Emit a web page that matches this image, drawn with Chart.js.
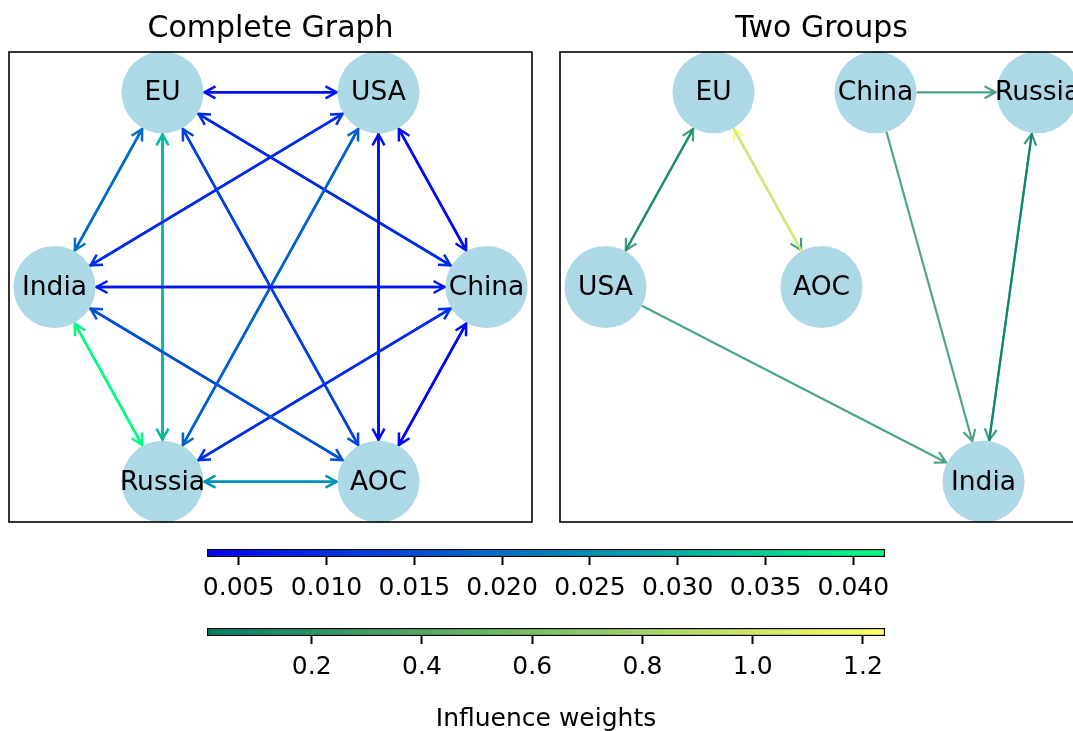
<!DOCTYPE html>
<html>
<head>
<meta charset="utf-8">
<script src="https://cdn.jsdelivr.net/npm/chart.js@4.4.0/dist/chart.umd.min.js"></script>
<style>
  html, body { margin: 0; padding: 0; background: #fff; }
  body { width: 1073px; height: 731px; overflow: hidden; position: relative; }
  canvas { position: absolute; }
</style>
</head>
<body>
<canvas id="leftGraph" width="545" height="530" style="left:0;top:0"></canvas>
<canvas id="rightGraph" width="545" height="530" style="left:548px;top:0"></canvas>
<canvas id="barOne" width="790" height="75" style="left:150px;top:540px"></canvas>
<canvas id="barTwo" width="790" height="114" style="left:150px;top:620px"></canvas>
<script>
// nodes and layouts
const nodeNames = ['EU', 'USA', 'China', 'AOC', 'Russia', 'India'];
const leftX = [-0.5, 0.5, 1, 0.5, -0.5, -1];
const leftY = [0.866, 0.866, 0, -0.866, -0.866, 0];
const rightX = [1, 0, 2.5, 2, 4, 3.5];
const rightY = [2, 1, 2, 1, 2, 0];

// complete graph edges (winter colormap)
const leftFrom = ['EU', 'USA', 'EU', 'China', 'EU', 'AOC', 'EU', 'Russia', 'EU', 'India',
  'USA', 'China', 'USA', 'AOC', 'USA', 'Russia', 'USA', 'India',
  'China', 'AOC', 'China', 'Russia', 'China', 'India',
  'AOC', 'Russia', 'AOC', 'India', 'Russia', 'India'];
const leftTo = ['USA', 'EU', 'China', 'EU', 'AOC', 'EU', 'Russia', 'EU', 'India', 'EU',
  'China', 'USA', 'AOC', 'USA', 'Russia', 'USA', 'India', 'USA',
  'AOC', 'China', 'Russia', 'China', 'India', 'China',
  'Russia', 'AOC', 'India', 'AOC', 'India', 'Russia'];
const leftWeights = [0.0068, 0.0060, 0.0100, 0.0095, 0.0135, 0.0130, 0.0320, 0.0315, 0.0200, 0.0195,
  0.0045, 0.0050, 0.0048, 0.0052, 0.0185, 0.0180, 0.0105, 0.0100,
  0.0032, 0.0040, 0.0110, 0.0105, 0.0070, 0.0065,
  0.0255, 0.0250, 0.0160, 0.0155, 0.0405, 0.0418];

// two groups edges (summer colormap)
const rightFrom = ['EU', 'USA', 'EU', 'AOC', 'China', 'China', 'USA', 'Russia', 'India'];
const rightTo = ['USA', 'EU', 'AOC', 'EU', 'Russia', 'India', 'India', 'India', 'Russia'];
const rightWeights = [0.08, 0.10, 0.10, 1.24, 0.16, 0.17, 0.16, 0.06, 0.01];

// colorbar ticks
const ticksOne = [0.005, 0.010, 0.015, 0.020, 0.025, 0.030, 0.035, 0.040];
const ticksTwo = [0.2, 0.4, 0.6, 0.8, 1.0, 1.2];

const FONT = 'DejaVu Sans';
const NODE_R = 41;

const winter = (t) => `rgb(0, ${Math.round(255 * t)}, ${Math.round(255 * (1 - t / 2))})`;
const summer = (t) => `rgb(${Math.round(255 * t)}, ${Math.round(255 * (0.5 + t / 2))}, 102)`;

const leftMin = Math.min(...leftWeights);
const leftMax = Math.max(...leftWeights);
const rightMin = Math.min(...rightWeights);
const rightMax = Math.max(...rightWeights);

const graphPlugin = (xs, ys, from, to, weights, cmap, vmin, vmax, alpha, lw) => ({
  id: 'graph',
  beforeDatasetsDraw(chart) {
    const ctx = chart.ctx;
    const sx = chart.scales.x;
    const sy = chart.scales.y;
    ctx.save();
    ctx.globalAlpha = alpha;
    ctx.lineWidth = lw;
    ctx.lineCap = 'butt';
    ctx.lineJoin = 'miter';
    from.forEach((src, i) => {
      const a = nodeNames.indexOf(src);
      const b = nodeNames.indexOf(to[i]);
      const x1 = sx.getPixelForValue(xs[a]);
      const y1 = sy.getPixelForValue(ys[a]);
      const x2 = sx.getPixelForValue(xs[b]);
      const y2 = sy.getPixelForValue(ys[b]);
      const len = Math.hypot(x2 - x1, y2 - y1);
      const ux = (x2 - x1) / len;
      const uy = (y2 - y1) / len;
      const sxp = x1 + ux * NODE_R;
      const syp = y1 + uy * NODE_R;
      const ex = x2 - ux * (NODE_R + 1);
      const ey = y2 - uy * (NODE_R + 1);
      const hl = 11;
      const hw = 6;
      ctx.strokeStyle = cmap((weights[i] - vmin) / (vmax - vmin));
      ctx.beginPath();
      ctx.moveTo(sxp, syp);
      ctx.lineTo(ex, ey);
      ctx.moveTo(ex - ux * hl - uy * hw, ey - uy * hl + ux * hw);
      ctx.lineTo(ex, ey);
      ctx.lineTo(ex - ux * hl + uy * hw, ey - uy * hl - ux * hw);
      ctx.stroke();
    });
    ctx.restore();
  },
  afterDatasetsDraw(chart) {
    const ctx = chart.ctx;
    const sx = chart.scales.x;
    const sy = chart.scales.y;
    ctx.save();
    ctx.font = `26.5px "${FONT}"`;
    ctx.fillStyle = '#000';
    ctx.textAlign = 'center';
    ctx.textBaseline = 'middle';
    nodeNames.forEach((n, i) => {
      ctx.fillText(n, sx.getPixelForValue(xs[i]), sy.getPixelForValue(ys[i]) + 1);
    });
    const ca = chart.chartArea;
    ctx.strokeStyle = '#000';
    ctx.lineWidth = 1.6;
    ctx.strokeRect(ca.left, ca.top, ca.right - ca.left, ca.bottom - ca.top);
    ctx.restore();
  },
});

const graphChart = (id, title, xs, ys, xr, yr, pad, plugin) => {
  new Chart(document.getElementById(id), {
    type: 'scatter',
    data: {
      datasets: [
        {
          data: nodeNames.map((n, i) => ({ x: xs[i], y: ys[i] })),
          backgroundColor: '#add8e6',
          borderWidth: 0,
          pointRadius: NODE_R,
          pointHoverRadius: NODE_R,
          clip: false,
        },
      ],
    },
    options: {
      responsive: false,
      animation: false,
      events: [],
      layout: { padding: pad, autoPadding: false },
      plugins: {
        legend: { display: false },
        tooltip: { enabled: false },
        title: {
          display: true,
          text: title,
          fullSize: false,
          color: '#000',
          font: { family: FONT, size: 30, weight: 'normal' },
          padding: { top: 11, bottom: 5 },
        },
      },
      scales: {
        x: { type: 'linear', display: false, min: xr[0], max: xr[1] },
        y: { type: 'linear', display: false, min: yr[0], max: yr[1] },
      },
    },
    plugins: [plugin],
  });
};

graphChart('leftGraph', 'Complete Graph', leftX, leftY, [-1.2106, 1.2106], [-1.0454, 1.0454],
  { left: 9, right: 13, top: 0, bottom: 8 },
  graphPlugin(leftX, leftY, leftFrom, leftTo, leftWeights, winter, leftMin, leftMax, 1, 2.5));

graphChart('rightGraph', 'Two Groups', rightX, rightY, [-0.421, 4.421], [-0.207, 2.207],
  { left: 12, right: 10, top: 0, bottom: 8 },
  graphPlugin(rightX, rightY, rightFrom, rightTo, rightWeights, summer, rightMin, rightMax, 0.8, 2.2));

// colorbars
const colorBar = (id, vmin, vmax, cmap, tickVals, digits, axisH, padTop, label) => {
  new Chart(document.getElementById(id), {
    type: 'bar',
    data: {
      labels: ['w'],
      datasets: [
        {
          data: [[vmin, vmax]],
          backgroundColor: (c) => {
            const ca = c.chart.chartArea;
            if (!ca) return cmap(0);
            const g = c.chart.ctx.createLinearGradient(ca.left, 0, ca.right, 0);
            g.addColorStop(0, cmap(0));
            g.addColorStop(1, cmap(1));
            return g;
          },
          borderColor: '#000',
          borderWidth: 1.5,
          borderSkipped: false,
          barPercentage: 1,
          categoryPercentage: 1,
        },
      ],
    },
    options: {
      indexAxis: 'y',
      responsive: false,
      animation: false,
      events: [],
      layout: { padding: { left: 57, right: 55, top: padTop, bottom: 0 }, autoPadding: false },
      plugins: { legend: { display: false }, tooltip: { enabled: false } },
      scales: {
        y: { display: false },
        x: {
          type: 'linear',
          min: vmin,
          max: vmax,
          position: 'bottom',
          border: { display: false },
          grid: {
            drawOnChartArea: false,
            drawTicks: true,
            tickLength: 8,
            tickWidth: 2,
            tickColor: '#000',
          },
          ticks: {
            color: '#000',
            font: { family: FONT, size: 25 },
            padding: 8,
            autoSkip: false,
            maxRotation: 0,
            callback: (v) => Number(v).toFixed(digits),
          },
          title: {
            display: !!label,
            text: label || '',
            color: '#000',
            font: { family: FONT, size: 25 },
            padding: { top: 0, bottom: 0 },
          },
          afterBuildTicks: (scale) => {
            scale.ticks = tickVals.map((v) => ({ value: v }));
          },
          afterFit: (scale) => {
            scale.height = axisH;
          },
        },
      },
    },
  });
};

colorBar('barOne', leftMin, leftMax, winter, ticksOne, 3, 58, 9, null);
colorBar('barTwo', rightMin, rightMax, summer, ticksTwo, 1, 98, 8, 'Influence weights');
</script>
</body>
</html>
